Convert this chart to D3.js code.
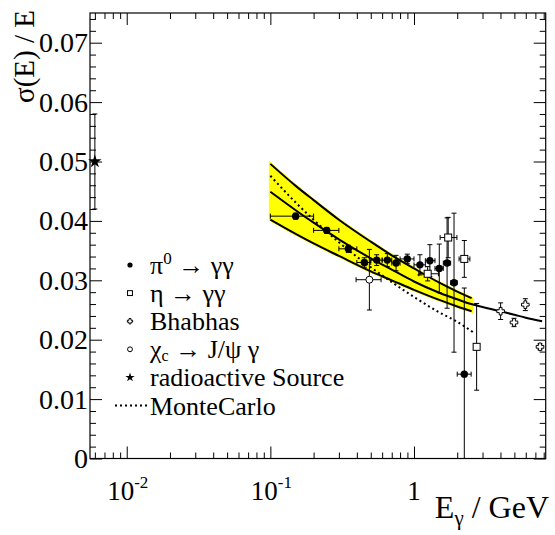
<!DOCTYPE html>
<html>
<head>
<meta charset="utf-8">
<script src="https://cdn.jsdelivr.net/npm/d3@7"></script>
<style>
  body { margin: 0; background: #fff; }
  svg text { font-family: "Liberation Serif", "Times New Roman", serif; fill: #000; }
</style>
</head>
<body>
<div id="chart"></div>
<script>
// pi0 -> gamma gamma
var pi0E   = [0.15, 0.247, 0.349, 0.451, 0.55, 0.652, 0.75, 0.898, 1.10, 1.29, 1.50, 1.70, 1.90, 2.24];
var pi0Lo  = [0.10, 0.20, 0.30, 0.40, 0.50, 0.60, 0.70, 0.80, 1.00, 1.20, 1.40, 1.60, 1.80, 2.00];
var pi0Hi  = [0.20, 0.30, 0.40, 0.50, 0.60, 0.70, 0.80, 1.00, 1.20, 1.40, 1.60, 1.80, 2.00, 2.50];
var pi0Res = [0.0408, 0.0384, 0.0353, 0.0330, 0.0334, 0.0334, 0.0329, 0.0336, 0.0326, 0.0333, 0.0320, 0.0329, 0.0296, 0.0142];
var pi0Err = [0.0005, 0.0005, 0.0006, 0.0008, 0.0009, 0.0011, 0.0013, 0.0008, 0.0017, 0.0027, 0.0041, 0.0076, 0.0117, 0.0145];

// eta -> gamma gamma
var etaE   = [1.245, 1.73, 2.24, 2.73];
var etaLo  = [1.08, 1.52, 2.06, 2.60];
var etaHi  = [1.48, 1.99, 2.45, 2.85];
var etaRes = [0.0311, 0.0372, 0.0336, 0.0188];
var etaErr = [0.0012, 0.0034, 0.0031, 0.0073];

// Bhabhas
var bhaE   = [4.01, 4.97, 5.96, 7.54];
var bhaRes = [0.0248, 0.0229, 0.0259, 0.0188];
var bhaErr = [0.0014, 0.0007, 0.0010, 0.0005];

// chi_c -> J/psi gamma
var chiE   = [0.489];
var chiLo  = [0.395];
var chiHi  = [0.59];
var chiRes = [0.0301];
var chiErr = [0.0051];

// radioactive source
var srcE   = [0.006];
var srcRes = [0.050];
var srcErr = [0.008];

// band and fit curves
var bandE    = [0.1, 0.15, 0.2, 0.3, 0.5, 0.7, 1.0, 1.5, 2.0, 2.52];
var bandHigh = [0.0496, 0.0459, 0.0435, 0.0402, 0.0365, 0.0342, 0.0320, 0.0296, 0.0281, 0.0270];
var bandLow  = [0.0402, 0.0378, 0.0362, 0.0341, 0.0315, 0.0300, 0.0284, 0.0267, 0.0256, 0.0248];
var fitE     = [0.1, 0.15, 0.2, 0.3, 0.5, 0.7, 1.0, 1.5, 2.0, 2.5, 3.0, 4.0, 5.0, 6.0, 7.8];
var fitRes   = [0.0449, 0.0418, 0.0397, 0.0369, 0.0337, 0.0318, 0.0298, 0.0279, 0.0268, 0.0260, 0.0255, 0.0248, 0.0242, 0.0237, 0.0231];
var mcE      = [0.1, 0.15, 0.2, 0.3, 0.5, 0.7, 1.0, 1.5, 2.0, 2.6];
var mcRes    = [0.0476, 0.0431, 0.0402, 0.0364, 0.0322, 0.0297, 0.0272, 0.0246, 0.0230, 0.0212];

// axes
var xMajor = [0.01, 0.1, 1];
var xMinor = [0.006, 0.007, 0.008, 0.009, 0.02, 0.03, 0.04, 0.05, 0.06, 0.07, 0.08, 0.09,
              0.2, 0.3, 0.4, 0.5, 0.6, 0.7, 0.8, 0.9, 2, 3, 4, 5, 6, 7, 8];
var xLabels = [["10", "-2"], ["10", "-1"], ["1", ""]];
var yMajor = [0, 0.01, 0.02, 0.03, 0.04, 0.05, 0.06, 0.07];
var yMinor = [0.002, 0.004, 0.006, 0.008, 0.012, 0.014, 0.016, 0.018, 0.022, 0.024, 0.026, 0.028,
              0.032, 0.034, 0.036, 0.038, 0.042, 0.044, 0.046, 0.048, 0.052, 0.054, 0.056, 0.058,
              0.062, 0.064, 0.066, 0.068, 0.072, 0.074];

var legendLabels = ["pi0", "eta", "Bhabhas", "chic", "radioactive Source", "MonteCarlo"];

var W = 555, H = 535;
var frame = { left: 90, right: 545.7, top: 13, bottom: 458.5 };
var serif = "Liberation Serif, Times New Roman, serif";

var svg = d3.select("#chart").append("svg")
    .attr("width", W)
    .attr("height", H);

svg.append("rect").attr("width", W).attr("height", H).attr("fill", "#fff");

var x = d3.scaleLog()
    .domain([0.00555, 8.26])
    .range([frame.left, frame.right]);

var y = d3.scaleLinear()
    .domain([0, 0.075])
    .range([frame.bottom, frame.top]);

// yellow band
var band = bandE.map(function(e, i) { return { e: e, lo: bandLow[i], hi: bandHigh[i] }; });

svg.append("path")
    .datum(band)
    .attr("fill", "#ffff00")
    .attr("stroke", "#ffff00")
    .attr("stroke-width", 3)
    .attr("d", d3.area()
        .curve(d3.curveMonotoneX)
        .x(function(d) { return x(d.e); })
        .y0(function(d) { return y(d.lo); })
        .y1(function(d) { return y(d.hi); }));

function curve(es, vs) {
  return d3.line()
    .curve(d3.curveMonotoneX)
    .x(function(d) { return x(d[0]); })
    .y(function(d) { return y(d[1]); })(d3.zip(es, vs));
}

svg.append("path").attr("d", curve(bandE, bandHigh))
    .attr("fill", "none").attr("stroke", "#000").attr("stroke-width", 2);
svg.append("path").attr("d", curve(bandE, bandLow))
    .attr("fill", "none").attr("stroke", "#000").attr("stroke-width", 2);
svg.append("path").attr("d", curve(mcE, mcRes))
    .attr("fill", "none").attr("stroke", "#000").attr("stroke-width", 2)
    .attr("stroke-dasharray", "2,3");
svg.append("path").attr("d", curve(fitE, fitRes))
    .attr("fill", "none").attr("stroke", "#000").attr("stroke-width", 2);

// error bars
var cap = 2.5;
function errorBars(es, vs, errs, los, his) {
  var g = svg.append("g").attr("stroke", "#000").attr("stroke-width", 1).attr("fill", "none");
  es.forEach(function(e, i) {
    var cx = x(e);
    var top = vs[i] + errs[i];
    var bot = Math.max(0, vs[i] - errs[i]);
    g.append("line").attr("x1", cx).attr("x2", cx).attr("y1", y(top)).attr("y2", y(bot));
    g.append("line").attr("x1", cx - cap).attr("x2", cx + cap).attr("y1", y(top)).attr("y2", y(top));
    if (vs[i] - errs[i] > 0) {
      g.append("line").attr("x1", cx - cap).attr("x2", cx + cap).attr("y1", y(bot)).attr("y2", y(bot));
    }
    if (los) {
      var cy = y(vs[i]);
      g.append("line").attr("x1", x(los[i])).attr("x2", x(his[i])).attr("y1", cy).attr("y2", cy);
      g.append("line").attr("x1", x(los[i])).attr("x2", x(los[i])).attr("y1", cy - cap).attr("y2", cy + cap);
      g.append("line").attr("x1", x(his[i])).attr("x2", x(his[i])).attr("y1", cy - cap).attr("y2", cy + cap);
    }
  });
}

errorBars(pi0E, pi0Res, pi0Err, pi0Lo, pi0Hi);
errorBars(etaE, etaRes, etaErr, etaLo, etaHi);
errorBars(bhaE, bhaRes, bhaErr);
errorBars(chiE, chiRes, chiErr, chiLo, chiHi);
errorBars(srcE, srcRes, srcErr);

// markers
function marker(g, type, cx, cy, s) {
  if (type === "dot") {
    g.append("circle").attr("cx", cx).attr("cy", cy).attr("r", 3.7 * s).attr("fill", "#000");
  } else if (type === "square") {
    g.append("rect").attr("x", cx - 3.5 * s).attr("y", cy - 3.5 * s)
      .attr("width", 7 * s).attr("height", 7 * s)
      .attr("fill", "#fff").attr("stroke", "#000").attr("stroke-width", 1);
  } else if (type === "circle") {
    g.append("circle").attr("cx", cx).attr("cy", cy).attr("r", 3.5 * s)
      .attr("fill", "#fff").attr("stroke", "#000").attr("stroke-width", 1);
  } else if (type === "cross") {
    var a = 3.8 * s, b = 1.4 * s;
    var pts = [[-b, -a], [b, -a], [b, -b], [a, -b], [a, b], [b, b], [b, a], [-b, a], [-b, b], [-a, b], [-a, -b], [-b, -b]];
    g.append("path")
      .attr("d", "M" + pts.map(function(p) { return (cx + p[0]) + "," + (cy + p[1]); }).join("L") + "Z")
      .attr("fill", "#fff").attr("stroke", "#000").attr("stroke-width", 1);
  } else if (type === "star") {
    g.append("path").attr("d", d3.symbol(d3.symbolStar).size(55 * s * s)())
      .attr("transform", "translate(" + cx + "," + cy + ")")
      .attr("fill", "#000");
  }
}

var marks = svg.append("g");
pi0E.forEach(function(e, i) { marker(marks, "dot", x(e), y(pi0Res[i]), 1); });
etaE.forEach(function(e, i) { marker(marks, "square", x(e), y(etaRes[i]), 1); });
bhaE.forEach(function(e, i) { marker(marks, "cross", x(e), y(bhaRes[i]), 1); });
chiE.forEach(function(e, i) { marker(marks, "circle", x(e), y(chiRes[i]), 1); });
srcE.forEach(function(e, i) { marker(marks, "star", x(e), y(srcRes[i]), 1); });

// frame and ticks on all four sides
function customAxis(g, axis) {
  g.call(axis);
  g.select(".domain").remove();
  g.selectAll(".tick line").attr("stroke", "#000").attr("stroke-width", 1);
}

svg.append("g").attr("transform", "translate(0," + frame.bottom + ")")
    .call(customAxis, d3.axisBottom(x).tickValues(xMajor).tickSize(-12).tickFormat(""));
svg.append("g").attr("transform", "translate(0," + frame.bottom + ")")
    .call(customAxis, d3.axisBottom(x).tickValues(xMinor).tickSize(-6).tickFormat(""));
svg.append("g").attr("transform", "translate(0," + frame.top + ")")
    .call(customAxis, d3.axisTop(x).tickValues(xMajor).tickSize(-12).tickFormat(""));
svg.append("g").attr("transform", "translate(0," + frame.top + ")")
    .call(customAxis, d3.axisTop(x).tickValues(xMinor).tickSize(-6).tickFormat(""));

var yAxisG = svg.append("g").attr("transform", "translate(" + frame.left + ",0)")
    .call(customAxis, d3.axisLeft(y).tickValues(yMajor).tickSize(-12).tickPadding(2)
      .tickFormat(function(d) { return d === 0 ? "0" : d3.format(".2f")(d); }));
yAxisG.selectAll(".tick text")
    .attr("font-family", serif)
    .attr("font-size", 28)
    .attr("fill", "#000");
svg.append("g").attr("transform", "translate(" + frame.left + ",0)")
    .call(customAxis, d3.axisLeft(y).tickValues(yMinor).tickSize(-6).tickFormat(""));
svg.append("g").attr("transform", "translate(" + frame.right + ",0)")
    .call(customAxis, d3.axisRight(y).tickValues(yMajor).tickSize(-12).tickFormat(""));
svg.append("g").attr("transform", "translate(" + frame.right + ",0)")
    .call(customAxis, d3.axisRight(y).tickValues(yMinor).tickSize(-6).tickFormat(""));

svg.append("rect")
    .attr("x", frame.left).attr("y", frame.top)
    .attr("width", frame.right - frame.left).attr("height", frame.bottom - frame.top)
    .attr("fill", "none").attr("stroke", "#000").attr("stroke-width", 1.2);

// x tick labels with exponents
xMajor.forEach(function(v, i) {
  var t = svg.append("text")
      .attr("x", x(v) + (xLabels[i][1] ? 1 : 0))
      .attr("y", 500)
      .attr("text-anchor", "middle")
      .attr("font-family", serif)
      .attr("font-size", 27);
  t.append("tspan").text(xLabels[i][0]);
  if (xLabels[i][1]) {
    t.append("tspan").attr("font-size", 17).attr("dy", -12).text(xLabels[i][1]);
  }
});

// axis titles
var xt = svg.append("text")
    .attr("x", 549).attr("y", 518)
    .attr("text-anchor", "end")
    .attr("font-family", serif)
    .attr("font-size", 32);
xt.append("tspan").text("E");
xt.append("tspan").attr("font-size", 21).attr("dy", 7).text("\u03b3");
xt.append("tspan").attr("dy", -7).text(" / GeV");

svg.append("text")
    .attr("transform", "translate(34,10) rotate(-90)")
    .attr("text-anchor", "end")
    .attr("font-family", serif)
    .attr("font-size", 29)
    .text("\u03c3(E) / E");

// legend
var leg = svg.append("g");
var legX = 130, legTextX = 150, legY0 = 265, legStep = 28.1;
var legTypes = ["dot", "square", "cross", "circle", "star", "line"];

legendLabels.forEach(function(lbl, i) {
  var cy = legY0 + i * legStep;
  if (legTypes[i] === "line") {
    leg.append("line").attr("x1", 115).attr("x2", 147).attr("y1", cy).attr("y2", cy)
      .attr("stroke", "#000").attr("stroke-width", 2).attr("stroke-dasharray", "2,3");
  } else {
    marker(leg, legTypes[i], legX, cy, 0.7);
  }
  var t = leg.append("text").attr("x", legTextX).attr("y", cy + 9)
      .attr("font-family", serif).attr("font-size", 26);
  if (lbl === "pi0") {
    t.append("tspan").text("\u03c0");
    t.append("tspan").attr("font-size", 17).attr("dy", -10).text("0");
    t.append("tspan").attr("dy", 10).text(" \u2192 \u03b3\u03b3");
  } else if (lbl === "eta") {
    t.text("\u03b7 \u2192 \u03b3\u03b3");
  } else if (lbl === "chic") {
    t.append("tspan").text("\u03c7");
    t.append("tspan").attr("font-size", 16).attr("dy", 3).text("c");
    t.append("tspan").attr("dy", -3).text(" \u2192 J/\u03c8 \u03b3");
  } else {
    t.text(lbl);
  }
});
</script>
</body>
</html>
